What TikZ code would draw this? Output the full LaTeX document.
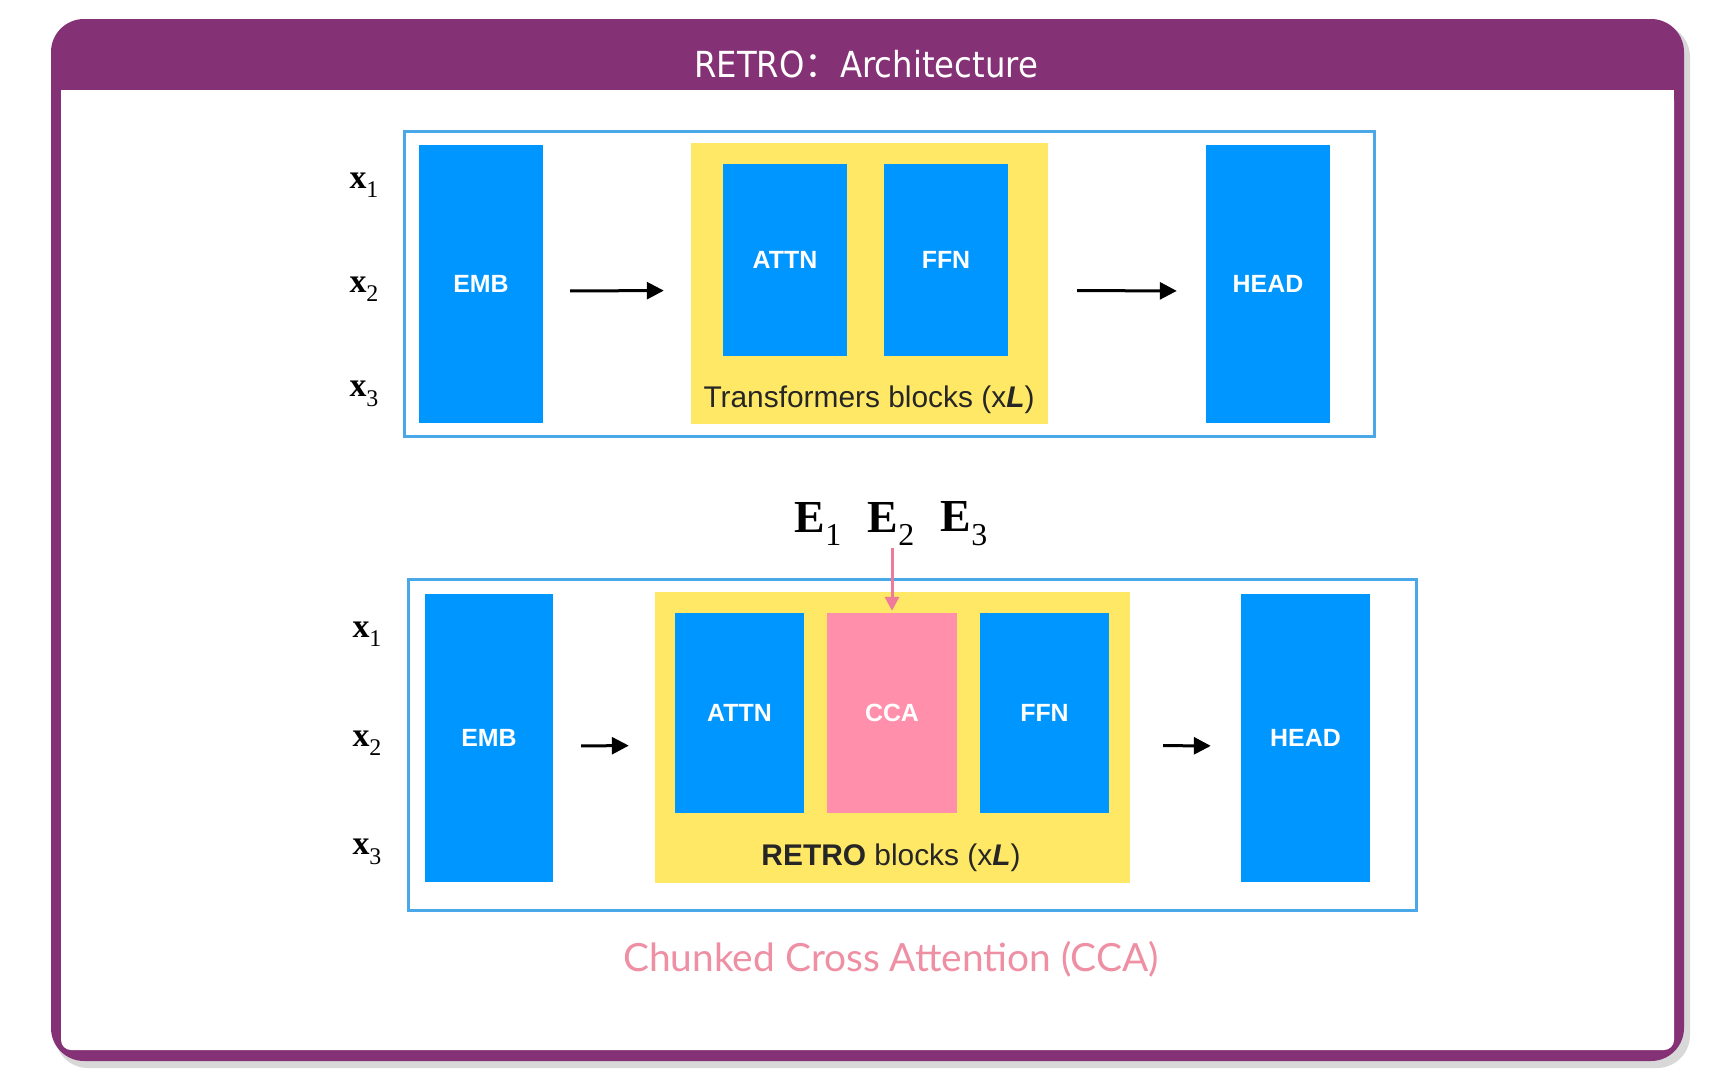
\documentclass[tikz,border=0pt]{standalone}
\usepackage{fontspec}
\newfontfamily\helv{Liberation Sans}
\newfontfamily\tnr{Liberation Serif}
\newfontfamily\titlefont{DejaVu Sans Condensed}
\newfontfamily\cjk{Noto Sans CJK SC}
\newfontfamily\gill{Lato}
\usetikzlibrary{arrows.meta}
\definecolor{framepurple}{HTML}{843275}
\definecolor{boxblue}{HTML}{0096FF}
\definecolor{lineblue}{HTML}{4AA8E8}
\definecolor{blockyellow}{HTML}{FFE866}
\definecolor{ccapink}{HTML}{FF8FAB}
\definecolor{arrowpink}{HTML}{F07A9A}
\definecolor{textpink}{HTML}{EE8FA3}
\newcommand{\xsub}[1]{{\bfseries x}\raisebox{-0.28em}{\mdseries\fontsize{24}{24}\selectfont #1}}
\newcommand{\esub}[1]{{\bfseries E}\raisebox{-0.3em}{\mdseries\fontsize{32}{32}\selectfont #1}}
\tikzset{
  bluebox/.style={fill=boxblue, draw=none, inner sep=0pt, text=white,
    font=\helv\bfseries\fontsize{25}{28}\selectfont},
  pinkbox/.style={bluebox, fill=ccapink},
  yellowbox/.style={fill=blockyellow, draw=none, inner sep=0pt},
  outlinebox/.style={draw=lineblue, line width=3bp, inner sep=0pt},
  flowarrow/.style={draw=black, line width=3bp, -{Triangle[length=17bp,width=17bp]}},
  ccaarrow/.style={draw=arrowpink, line width=3bp, -{Triangle[length=14bp,width=14bp]}},
  xlabel/.style={inner sep=0pt, font=\tnr\fontsize{34}{38}\selectfont},
  elabel/.style={inner sep=0pt, font=\tnr\fontsize{46}{50}\selectfont},
  blocklabel/.style={inner sep=0pt, text=black!85, font=\helv\fontsize{30}{34}\selectfont},
}
\begin{document}
\begin{tikzpicture}[x=1bp,y=-1bp]
\useasboundingbox (0,0) rectangle (1730,1072);
\fill[white] (0,0) rectangle (1730,1072);
% shadow
\fill[black!25, rounded corners=33bp, opacity=0.6] (55,24) rectangle (1690,1068);
% frame
\fill[framepurple, rounded corners=33bp] (51,19) rectangle (1684,1061);
\fill[white, rounded corners=10bp] (61,90) -- (61,1050) -- (1674,1050) -- (1674,90) -- cycle;
\fill[white] (61,90) rectangle (1674,200);
\node[text=white, inner sep=0pt, font=\titlefont\fontsize{36}{40}\selectfont] (title) at (866,64) {RETRO{\cjk ：}Architecture};

% ---------- top panel ----------
\node[outlinebox, minimum width=969bp, minimum height=305bp] (out1) at (889.5,283.5) {};
\node[bluebox, minimum width=124bp, minimum height=278bp] (emb1) at (481,284) {EMB};
\node[yellowbox, minimum width=357bp, minimum height=281bp] (yel1) at (869.5,283.5) {};
\node[bluebox, minimum width=124bp, minimum height=192bp] (attn1) at (785,260) {ATTN};
\node[bluebox, minimum width=124bp, minimum height=192bp] (ffn1) at (946,260) {FFN};
\node[bluebox, minimum width=124bp, minimum height=278bp] (head1) at (1268,284) {HEAD};
\node[blocklabel] (lab1) at (869,400) {Transformers blocks (x\textbf{\textit{L}})};
\node[xlabel] (xa1) at (364,185) {\xsub{1}};
\node[xlabel] (xa2) at (364,289) {\xsub{2}};
\node[xlabel] (xa3) at (364,394) {\xsub{3}};
\draw[flowarrow, shorten <=27bp, shorten >=27bp] ([yshift=-7bp]emb1.east) -- ([yshift=-7bp]yel1.west);
\draw[flowarrow, shorten <=29bp, shorten >=29bp] ([yshift=-7bp]yel1.east) -- ([yshift=-7bp]head1.west);

% ---------- bottom panel ----------
\node[outlinebox, minimum width=1007bp, minimum height=331bp] (out2) at (912.5,744.5) {};
\node[bluebox, minimum width=128bp, minimum height=288bp] (emb2) at (489,738) {EMB};
\node[yellowbox, minimum width=475bp, minimum height=291bp] (yel2) at (892.5,737.5) {};
\node[bluebox, minimum width=129bp, minimum height=200bp] (attn2) at (739.5,713) {ATTN};
\node[pinkbox, minimum width=130bp, minimum height=200bp] (cca) at (892,713) {CCA};
\node[bluebox, minimum width=129bp, minimum height=200bp] (ffn2) at (1044.5,713) {FFN};
\node[bluebox, minimum width=129bp, minimum height=288bp] (head2) at (1305.5,738) {HEAD};
\node[blocklabel] (lab2) at (891,858) {\textbf{RETRO} blocks (x\textbf{\textit{L}})};
\node[xlabel] (xb1) at (367,634) {\xsub{1}};
\node[xlabel] (xb2) at (367,743) {\xsub{2}};
\node[xlabel] (xb3) at (367,852) {\xsub{3}};
\node[elabel] (e1) at (818,524) {\esub{1}};
\node[elabel] (e2) at (891,524) {\esub{2}};
\node[elabel] (e3) at (964,524) {\esub{3}};
\draw[ccaarrow, shorten <=2bp, shorten >=2bp] (cca.north |- e2.south) -- (cca.north);
\draw[flowarrow, shorten <=28bp, shorten >=26bp] ([yshift=-8bp]emb2.east) -- ([yshift=-8bp]yel2.west);
\draw[flowarrow, shorten <=33bp, shorten >=30bp] ([yshift=-8bp]yel2.east) -- ([yshift=-8bp]head2.west);

\node[inner sep=0pt, text=textpink, font=\gill\fontsize{39}{44}\selectfont] (ccatext) at (891,959) {Chunked Cross Attention (CCA)};
\end{tikzpicture}
\end{document}
